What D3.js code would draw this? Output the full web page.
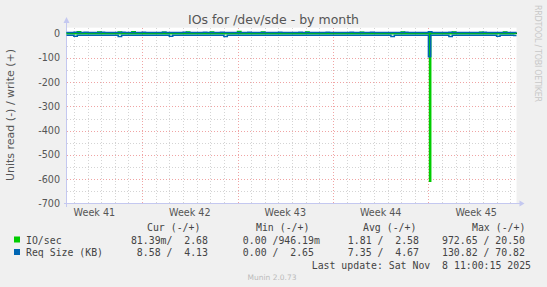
<!DOCTYPE html>
<html>
<head>
<meta charset="utf-8">
<script src="https://cdn.jsdelivr.net/npm/d3@7"></script>
<style>
  body { margin: 0; background: #f0f0f0; }
  svg { display: block; }
  text { font-family: "DejaVu Sans", sans-serif; fill: #555; }
  .mono { font-family: "DejaVu Sans Mono", monospace; white-space: pre; font-size: 9.85px; fill: #444; }
</style>
</head>
<body>
<div id="chart"></div>
<script>
// Chart data: munin "IOs for /dev/sde", month view, one value per 6 hours
const endTime = Date.UTC(2025, 10, 8, 11, 0, 15);
const startTime = endTime - 33 * 864e5;
const firstSample = Date.UTC(2025, 9, 6, 12, 0, 0);
const stepMs = 6 * 36e5;

// IO/sec write (+) and read (-, stored as magnitude)
const ioWrite = [
  2.9,2.3,2.4,6.8,2.2,2.1,2.5,2.3,2.2,5.9,2.4,2.2,
  2.3,2.1,2.6,6.2,2.3,2.2,2.4,7.1,2.2,2.3,2.1,2.4,
  2.5,2.2,2.3,2.1,5.4,2.4,2.2,2.3,2.5,2.1,2.2,6.0,
  2.3,2.4,2.2,2.1,2.3,2.5,6.4,2.2,2.3,2.4,2.1,2.2,
  2.3,2.2,7.8,2.4,2.1,2.3,2.2,2.5,2.4,6.6,2.2,2.1,
  2.3,2.2,2.4,2.3,2.1,2.2,2.6,2.4,2.3,2.2,5.8,2.3,
  2.4,2.2,2.1,2.3,2.5,2.2,2.4,2.3,2.1,2.2,2.3,2.4,
  2.2,2.3,5.6,2.1,2.4,2.2,2.3,2.5,2.2,2.1,2.4,2.3,
  2.2,2.3,6.1,2.4,2.2,2.1,2.3,2.2,2.4,2.3,3.9,2.2,
  2.3,2.1,2.4,2.2,2.3,5.7,2.2,2.4,2.1,2.3,2.2,2.4,
  2.3,5.2,2.2,2.4,2.1,2.3,2.5,2.2,6.3,2.4,2.3,2.7
];
const ioRead = [
  1.2,1.1,1.3,1.0,1.4,1.2,1.1,1.3,1.2,1.0,1.2,1.1,
  1.3,1.2,1.0,1.1,1.4,1.2,1.1,1.3,1.2,1.1,1.0,1.2,
  1.1,1.3,1.2,1.0,1.2,1.1,1.4,1.2,1.1,1.0,1.3,1.2,
  1.2,1.1,1.3,1.2,1.0,1.1,1.2,1.4,1.1,1.2,1.0,1.3,
  1.1,1.2,1.2,1.0,1.3,1.1,1.2,1.1,1.4,1.2,1.0,1.1,
  1.2,1.3,1.1,1.0,1.2,1.1,1.3,1.2,1.1,1.0,1.2,1.1,
  1.3,1.1,1.2,1.0,1.1,1.2,1.4,1.1,1.2,1.0,1.1,1.3,
  1.2,1.1,1.0,1.2,1.3,1.1,1.2,1.1,1.0,1.2,1.1,1.2,
  1.1,1.2,1.3,1.0,1.1,1.2,1.1,1.3,1.2,1.0,1.4,1.2,
  1.1,1.0,1.2,1.3,1.1,1.2,1.0,1.1,1.2,1.3,1.1,1.2,
  1.0,1.2,1.1,1.3,1.2,1.1,1.0,1.2,1.1,1.2,1.1,0.1
];
// short read bursts (2 h samples) early on Sunday Nov 2
const burstMs = 2 * 36e5;
const ioReadBurstStart = Date.UTC(2025, 10, 2, 2, 0, 0);
const ioReadBurst = [608];
const sizeReadBurstStart = Date.UTC(2025, 10, 2, 0, 0, 0);
const sizeReadBurst = [96, 95];

// Req Size (KB) write (+) and read (-, stored as magnitude)
const sizeWrite = [
  4.6,4.4,4.7,4.3,4.5,4.8,4.2,4.6,4.4,4.5,4.7,4.3,
  4.5,4.6,4.2,4.4,4.9,4.3,4.5,4.6,4.4,4.2,4.7,4.5,
  4.4,4.6,4.5,4.3,4.8,4.4,4.5,4.6,4.2,4.4,4.7,4.5,
  4.6,4.3,4.5,4.4,4.7,4.5,4.2,4.6,4.4,4.8,4.5,4.3,
  4.5,4.4,4.6,4.3,4.5,4.7,4.4,4.2,4.6,4.5,4.4,4.6,
  4.3,4.5,4.7,4.4,4.6,4.2,4.5,4.4,4.8,4.5,4.3,4.6,
  4.4,4.5,4.6,4.3,4.7,4.4,4.5,4.2,4.6,4.5,4.4,4.7,
  4.5,4.3,4.6,4.4,4.5,4.8,4.2,4.5,4.6,4.4,4.3,4.5,
  4.6,4.4,4.5,4.7,4.3,4.5,4.4,4.6,4.2,4.5,7.5,4.4,
  4.5,4.6,4.3,4.4,4.7,4.5,4.2,4.6,4.4,4.5,4.3,4.6,
  4.4,4.5,4.7,4.3,4.6,4.4,4.5,4.2,4.6,4.5,4.3,4.1
];
const sizeRead = [
  7.2,7.0,11.8,7.1,6.9,7.3,7.0,7.2,6.8,7.1,7.0,7.3,
  6.9,7.1,7.2,12.4,7.0,6.8,7.1,7.2,7.0,7.3,6.9,7.1,
  7.0,7.2,6.9,7.1,7.3,7.0,11.2,7.1,6.9,7.2,7.0,7.1,
  7.2,6.9,7.1,7.0,7.3,7.1,6.8,7.2,7.0,7.1,12.1,7.0,
  7.1,7.0,7.2,6.9,7.1,7.3,7.0,6.9,7.2,7.1,7.0,7.2,
  6.9,7.1,7.0,7.2,7.3,7.0,7.1,6.9,7.2,7.0,7.1,7.3,
  7.0,7.2,6.9,7.1,7.0,7.2,7.1,7.0,6.9,7.2,7.1,7.0,
  7.2,7.1,7.0,7.3,6.9,7.1,7.2,7.0,7.1,6.9,7.2,12.6,
  7.1,7.0,7.2,7.1,6.9,7.0,7.2,7.1,7.0,7.2,7.4,7.1,
  7.0,7.2,7.1,6.9,12.2,7.1,7.0,7.2,7.1,7.0,7.3,7.1,
  7.0,7.1,6.9,7.2,7.0,7.1,11.6,7.2,7.0,7.1,6.9,8.6
];

const yTicks = [0, -100, -200, -300, -400, -500, -600, -700];
const legendHeader = ["Cur (-/+)", "Min (-/+)", "Avg (-/+)", "Max (-/+)"];
const ioStats = [" 81.39m/  2.68 ", "  0.00 /946.19m", "  1.81 /  2.58 ", "972.65 / 20.50 "];
const sizeStats = ["  8.58 /  4.13 ", "  0.00 /  2.65 ", "  7.35 /  4.67 ", "130.82 / 70.82 "];

const width = 547, height = 287;
const left = 66.5, right = 516.5;

const svg = d3.select("#chart").append("svg")
    .attr("width", width)
    .attr("height", height);

svg.append("rect").attr("width", width).attr("height", height).attr("fill", "#f0f0f0");

const x = d3.scaleUtc().domain([new Date(startTime), new Date(endTime)]).range([left, right]);
const y = d3.scaleLinear().domain([-700, 0]).range([203.5, 33.5]);
const plotTop = y(24);

// plot background
svg.append("rect")
    .attr("x", left).attr("y", plotTop)
    .attr("width", right - left).attr("height", y(-700) - plotTop)
    .attr("fill", "#fff");

// minor grid (days, every 50)
const grid = svg.append("g").attr("shape-rendering", "crispEdges");
grid.selectAll(".vmin")
    .data(d3.utcDay.range(new Date(startTime), new Date(endTime)))
    .enter().append("line")
    .attr("x1", d => Math.round(x(d)) + 0.5).attr("x2", d => Math.round(x(d)) + 0.5)
    .attr("y1", plotTop).attr("y2", y(-700))
    .attr("stroke", "#d4d4d4").attr("stroke-dasharray", "1,2");
grid.selectAll(".hmin")
    .data(d3.range(-650, 0, 100))
    .enter().append("line")
    .attr("x1", left).attr("x2", right)
    .attr("y1", d => Math.round(y(d)) + 0.5).attr("y2", d => Math.round(y(d)) + 0.5)
    .attr("stroke", "#d4d4d4").attr("stroke-dasharray", "1,2");

// major grid (weeks, every 100)
grid.selectAll(".vmaj")
    .data(d3.utcSunday.range(new Date(startTime), new Date(endTime)))
    .enter().append("line")
    .attr("x1", d => Math.round(x(d)) + 0.5).attr("x2", d => Math.round(x(d)) + 0.5)
    .attr("y1", plotTop).attr("y2", y(-700))
    .attr("stroke", "#f0a4a4").attr("stroke-dasharray", "1,2");
grid.selectAll(".hmaj")
    .data(yTicks.slice(1, -1))
    .enter().append("line")
    .attr("x1", left).attr("x2", right)
    .attr("y1", d => Math.round(y(d)) + 0.5).attr("y2", d => Math.round(y(d)) + 0.5)
    .attr("stroke", "#f0a4a4").attr("stroke-dasharray", "1,2");

// axes with arrows
const axisColor = "#c4c8f0";
svg.append("line").attr("x1", left).attr("x2", left).attr("y1", y(-700) + 3).attr("y2", 21)
    .attr("stroke", axisColor).attr("shape-rendering", "crispEdges");
svg.append("path").attr("d", `M${left - 3},${23} L${left},${17} L${left + 3},${23} Z`).attr("fill", axisColor);
svg.append("line").attr("x1", left - 3).attr("x2", right + 5).attr("y1", y(-700)).attr("y2", y(-700))
    .attr("stroke", axisColor).attr("shape-rendering", "crispEdges");
svg.append("path").attr("d", `M${right + 3},${y(-700) - 3} L${right + 8},${y(-700)} L${right + 3},${y(-700) + 3} Z`).attr("fill", axisColor);

// y tick labels
svg.selectAll(".ylab")
    .data(yTicks)
    .enter().append("text")
    .attr("x", 60).attr("y", d => y(d) + 3.5)
    .attr("text-anchor", "end")
    .attr("font-size", "9.6px")
    .text(d => d);

// week labels at week midpoints
const weekFmt = d3.utcFormat("%V");
const weekStarts = d3.utcSunday.range(new Date(startTime - 7 * 864e5), new Date(endTime + 7 * 864e5));
svg.selectAll(".wlab")
    .data(weekStarts.map(d => new Date(+d + 3.5 * 864e5)).filter(d => x(d) > left && x(d) < right))
    .enter().append("text")
    .attr("x", d => x(d)).attr("y", 216)
    .attr("text-anchor", "middle")
    .attr("font-size", "9.6px")
    .text(d => "Week " + (+weekFmt(d)));

// zero line
svg.append("line").attr("x1", left).attr("x2", right).attr("y1", y(0)).attr("y2", y(0))
    .attr("stroke", "#000").attr("shape-rendering", "crispEdges");

// series lines (step)
function stepPoints(values, sign, burst) {
    const pts = values.map((v, i) => [firstSample + i * stepMs, sign * v]);
    pts.unshift([startTime, sign * values[0]]);
    pts.push([endTime, sign * values[values.length - 1]]);
    if (burst) {
        const t1 = burst.start + burst.values.length * burstMs;
        const resume = values[Math.floor((t1 - firstSample) / stepMs)];
        burst.values.forEach((v, k) => pts.push([burst.start + k * burstMs, sign * v]));
        pts.push([t1, sign * resume]);
        pts.sort((a, b) => a[0] - b[0]);
    }
    return pts;
}
const line = d3.line()
    .x(d => x(new Date(d[0])))
    .y(d => y(d[1]))
    .curve(d3.curveStepAfter);

const series = [
    { values: ioRead, sign: -1, color: "#00cc00", burst: { start: ioReadBurstStart, values: ioReadBurst } },
    { values: ioWrite, sign: 1, color: "#00cc00" },
    { values: sizeRead, sign: -1, color: "#0066b3", burst: { start: sizeReadBurstStart, values: sizeReadBurst } },
    { values: sizeWrite, sign: 1, color: "#0066b3" }
];
svg.selectAll(".series")
    .data(series)
    .enter().append("path")
    .attr("d", d => line(stepPoints(d.values, d.sign, d.burst)))
    .attr("fill", "none")
    .attr("stroke", d => d.color)
    .attr("stroke-width", 1.5);

// title and labels
svg.append("text")
    .attr("x", 273.5).attr("y", 24)
    .attr("text-anchor", "middle")
    .attr("font-size", "12.5px")
    .attr("fill", "#555")
    .text("IOs for /dev/sde - by month");

svg.append("text")
    .attr("transform", "translate(14,115) rotate(-90)")
    .attr("text-anchor", "middle")
    .attr("font-size", "11px")
    .text("Units read (-) / write (+)");

svg.append("text")
    .attr("transform", "translate(535,5) rotate(90)")
    .attr("font-size", "8px")
    .attr("textLength", 97)
    .attr("lengthAdjust", "spacing")
    .style("fill", "#c8c8c8")
    .text("RRDTOOL / TOBI OETIKER");

// legend
const colX = [125, 231, 336, 442];
const headX = [147, 256, 363, 472];
svg.selectAll(".lhead")
    .data(legendHeader)
    .enter().append("text")
    .attr("class", "mono")
    .attr("x", (d, i) => headX[i]).attr("y", 231)
    .text(d => d);

const rows = [
    { name: "IO/sec", color: "#00cc00", stats: ioStats, y: 243.5 },
    { name: "Req Size (KB)", color: "#0066b3", stats: sizeStats, y: 256 }
];
rows.forEach(r => {
    svg.append("rect").attr("x", 14).attr("y", r.y - 7).attr("width", 6).attr("height", 6)
        .attr("fill", r.color);
    svg.append("text").attr("class", "mono").attr("x", 26).attr("y", r.y).text(r.name);
    r.stats.forEach((s, i) => {
        svg.append("text").attr("class", "mono").attr("x", colX[i]).attr("y", r.y).text(s);
    });
});

svg.append("text").attr("class", "mono")
    .attr("x", 531).attr("y", 268.5)
    .attr("text-anchor", "end")
    .text("Last update: Sat Nov  8 11:00:15 2025");

svg.append("text")
    .attr("x", 272).attr("y", 280)
    .attr("text-anchor", "middle")
    .attr("font-size", "7.5px")
    .style("fill", "#bbb")
    .text("Munin 2.0.73");
</script>
</body>
</html>
